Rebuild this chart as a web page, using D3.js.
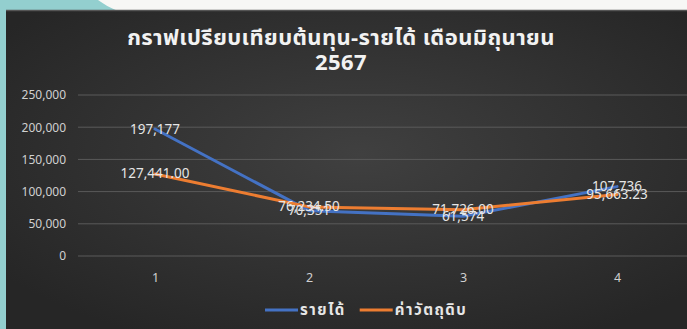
<!DOCTYPE html>
<html>
<head>
<meta charset="utf-8">
<script src="https://cdn.jsdelivr.net/npm/d3@7"></script>
<style>
  html, body { margin: 0; padding: 0; background: #f7f7f5; }
  svg { display: block; }
</style>
</head>
<body>
<svg id="chart" width="687" height="329"></svg>
<script>
// Monthly comparison: revenue vs. raw-material cost, weeks 1–4
const categories = ["1", "2", "3", "4"];
const revenue = [197177, 70351, 61574, 107736];
const materialCost = [127441.00, 76234.50, 71726.00, 95663.23];
const revenueLabels = ["197,177", "70,351", "61,574", "107,736"];
const costLabels = ["127,441.00", "76,234.50", "71,726.00", "95,663.23"];
const yTicks = [0, 50000, 100000, 150000, 200000, 250000];
const titleLines = ["กราฟเปรียบเทียบต้นทุน-รายได้ เดือนมิถุนายน", "2567"];
const seriesNames = ["รายได้", "ค่าวัตถุดิบ"];

const W = 687, H = 329;
const svg = d3.select("#chart");
const font = "'Noto Sans Thai', 'Noto Sans', 'Liberation Sans', sans-serif";

// page frame: teal left edge and corner above the dark panel
svg.append("rect").attr("x", 0).attr("y", 0).attr("width", W).attr("height", H).attr("fill", "#f7f7f5");
svg.append("path")
  .attr("d", "M0,0 L98,0 C104,4 110,8 118,11 L6,11 L6,329 L0,329 Z")
  .attr("fill", "#93cfcf");

// dark panel with soft radial shading
const defs = svg.append("defs");
const grad = defs.append("radialGradient").attr("id", "panelGrad")
  .attr("cx", "52%").attr("cy", "45%").attr("r", "65%");
grad.append("stop").attr("offset", "0%").attr("stop-color", "#404040");
grad.append("stop").attr("offset", "100%").attr("stop-color", "#262626");
svg.append("rect").attr("x", 6).attr("y", 11).attr("width", W - 6).attr("height", H - 11)
  .attr("fill", "url(#panelGrad)");
svg.append("line").attr("x1", 6).attr("x2", W).attr("y1", 10.5).attr("y2", 10.5)
  .attr("stroke", "#555").attr("stroke-width", 1.5);

// scales
const x = d3.scalePoint().domain(categories).range([78, 694]).padding(0.5);
const y = d3.scaleLinear().domain([0, 250000]).range([256, 95]);

// gridlines
svg.append("g").selectAll("line").data(yTicks).join("line")
  .attr("x1", 78).attr("x2", W)
  .attr("y1", d => y(d)).attr("y2", d => y(d))
  .attr("stroke", "#5a5a5a").attr("stroke-width", 1);

// y axis
const yAxis = svg.append("g").attr("transform", "translate(78,0)")
  .call(d3.axisLeft(y).tickValues(yTicks).tickSize(0).tickPadding(12)
    .tickFormat(d3.format(",")));
yAxis.select(".domain").remove();
yAxis.selectAll("text").attr("fill", "#d0d0d0").attr("font-size", 12).attr("font-family", font);

// x axis
const xAxis = svg.append("g").attr("transform", "translate(0,256)")
  .call(d3.axisBottom(x).tickSize(0).tickPadding(17));
xAxis.select(".domain").remove();
xAxis.selectAll("text").attr("fill", "#d0d0d0").attr("font-size", 12.5).attr("font-family", font);

// title (two lines)
svg.append("text").attr("x", 341).attr("y", 45).attr("text-anchor", "middle")
  .attr("fill", "#f2f2f2").attr("font-size", 22).attr("font-weight", "bold")
  .attr("letter-spacing", 0.4).attr("font-family", font)
  .selectAll("tspan").data(titleLines).join("tspan")
  .attr("x", 341).attr("dy", (d, i) => i === 0 ? 0 : 25).text(d => d);

// series lines
const line = d3.line().x((d, i) => x(categories[i])).y(d => y(d));
const series = [
  { name: seriesNames[0], values: revenue, labels: revenueLabels, color: "#4472c4" },
  { name: seriesNames[1], values: materialCost, labels: costLabels, color: "#ed7d31" }
];
svg.append("g").selectAll("path").data(series).join("path")
  .attr("d", d => line(d.values))
  .attr("fill", "none").attr("stroke", d => d.color).attr("stroke-width", 3)
  .attr("stroke-linecap", "round").attr("stroke-linejoin", "round");

// value labels centred on each point
series.forEach(s => {
  svg.append("g").selectAll("text").data(s.values).join("text")
    .attr("x", (d, i) => x(categories[i]))
    .attr("y", d => y(d) + 4.5)
    .attr("text-anchor", "middle")
    .attr("fill", "#e6e6e6").attr("font-size", 13.5).attr("font-family", font)
    .text((d, i) => s.labels[i]);
});

// legend
const legend = svg.append("g").attr("transform", "translate(265,310)");
let lx = 0;
series.forEach(s => {
  legend.append("line").attr("x1", lx).attr("x2", lx + 33).attr("y1", 0).attr("y2", 0)
    .attr("stroke", s.color).attr("stroke-width", 3);
  const t = legend.append("text").attr("x", lx + 35).attr("y", 5)
    .attr("fill", "#e6e6e6").attr("font-size", 15).attr("font-weight", "bold")
    .attr("letter-spacing", 1.5).attr("font-family", font)
    .text(s.name);
  lx += 35 + t.node().getComputedTextLength() + 14;
});
</script>
</body>
</html>
